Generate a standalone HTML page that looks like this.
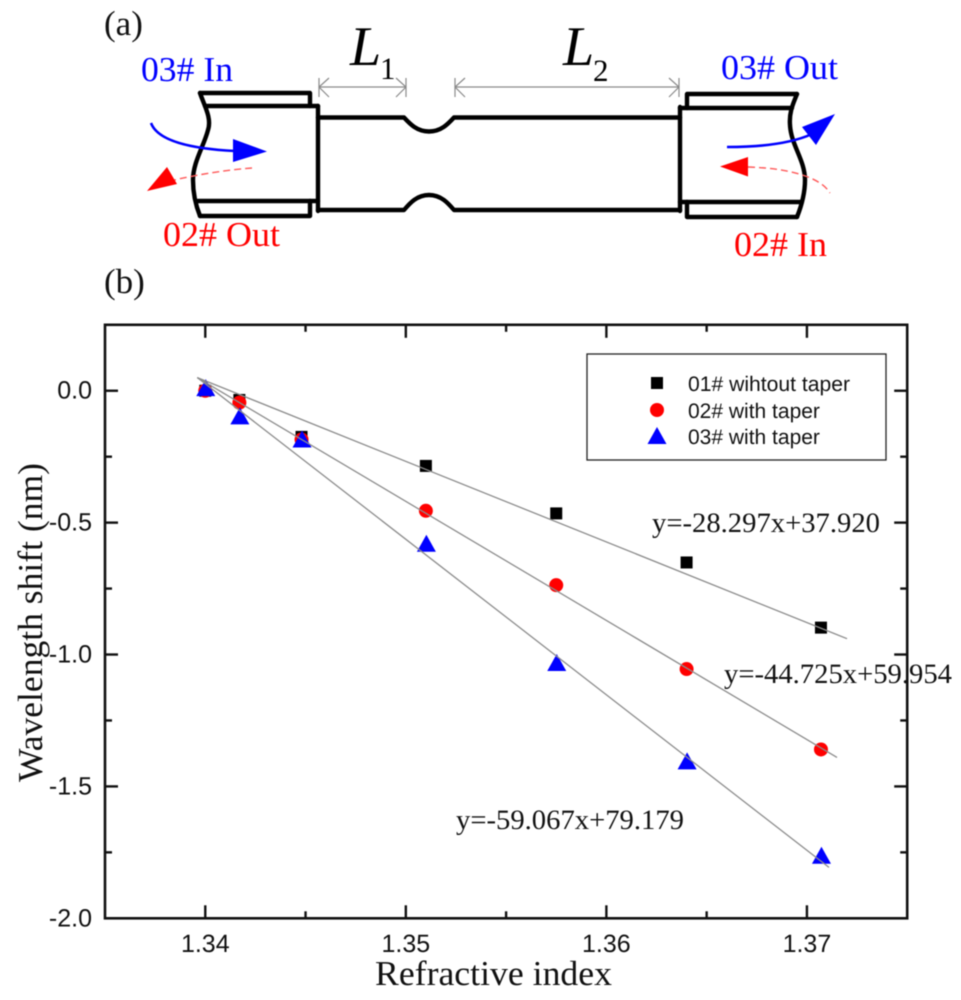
<!DOCTYPE html>
<html>
<head>
<meta charset="utf-8">
<title>Taper fiber diagram and wavelength shift chart</title>
<style>
html,body{margin:0;padding:0;background:#fff;width:961px;height:1000px;overflow:hidden}
svg{display:block;filter:blur(0.45px);text-rendering:geometricPrecision}
.serif{font-family:"Liberation Serif",serif}
.sans{font-family:"Liberation Sans",sans-serif}
.fiber{fill:none;stroke:#000;stroke-width:4.4;stroke-linejoin:round;stroke-linecap:round}
.dim{fill:none;stroke:#8a8a8a;stroke-width:1.2}
</style>
</head>
<body>
<svg id="figure" width="961" height="1000" viewBox="0 0 961 1000" xmlns="http://www.w3.org/2000/svg">
<rect width="961" height="1000" fill="#fff"/>

<g id="panel-a">
  <text class="serif" x="104" y="35" font-size="35" fill="#111">(a)</text>

  <g class="fiber">
    <path d="M200 93H310V106"/>
    <path d="M205 106H318"/>
    <path d="M198 201H318"/>
    <path d="M200 216H310V201"/>
    <path d="M200 93C204 105 212 118 208 130C204 146 193 162 193 180C193 195 196 206 200 216"/>
  </g>
  <g class="fiber">
    <path d="M797 94H687V108"/>
    <path d="M680 108H792"/>
    <path d="M680 202H800"/>
    <path d="M797 217H687V202"/>
    <path d="M797 94C793 104 789 112 790 125C791 145 805 160 805 180C805 195 801 207 797 217"/>
  </g>
  <g class="fiber">
    <path d="M318 106V211"/>
    <path d="M680 107V211"/>
    <path d="M318 117.5H404C410 124 417 131.500 429 131.500C441 131.500 448 124 454 117.5H680"/>
    <path d="M318 210H404C410 203 417 195 429 195C441 195 448 203 454 210H680"/>
  </g>

  <g class="dim">
    <path d="M319 78V97M406 78V97M319 87H406M329 78L319 87L329 97M396 78L406 87L396 97"/>
  </g>
  <g class="dim">
    <path d="M455 78V97M679 78V97M455 87H679M465 78L455 87L465 97M669 78L679 87L669 97"/>
  </g>
  <text class="serif" x="350" y="65" font-size="56" font-style="italic" fill="#000">L</text>
  <text class="serif" x="380" y="79" font-size="31" fill="#000">1</text>
  <text class="serif" x="563" y="65" font-size="56" font-style="italic" fill="#000">L</text>
  <text class="serif" x="593" y="81" font-size="31" fill="#000">2</text>

  <text class="serif" x="141" y="81" font-size="35" textLength="92" lengthAdjust="spacingAndGlyphs" fill="#0000ff">03# In</text>
  <text class="serif" x="163" y="246" font-size="35" textLength="117" lengthAdjust="spacingAndGlyphs" fill="#ff0000">02# Out</text>
  <text class="serif" x="721" y="79" font-size="35" textLength="117" lengthAdjust="spacingAndGlyphs" fill="#0000ff">03# Out</text>
  <text class="serif" x="734" y="256" font-size="35" textLength="93" lengthAdjust="spacingAndGlyphs" fill="#ff0000">02# In</text>

  <g>
    <path d="M151 123C158 142 195 149 235 151" fill="none" stroke="#0000ff" stroke-width="2.6"/>
    <path d="M233 139L267 151.5L233 162Z" fill="#0000ff"/>
  </g>
  <g>
    <path d="M252 168C225 170 195 175 170 181" fill="none" stroke="#ff5a5a" stroke-width="1.4" stroke-dasharray="7 4"/>
    <path d="M147 191L167 167L177 184Z" fill="#ff0000"/>
  </g>
  <g>
    <path d="M727 147C760 147 790 144 812 134" fill="none" stroke="#0000ff" stroke-width="2.6"/>
    <path d="M835 114L802 127L816 145Z" fill="#0000ff"/>
  </g>
  <g>
    <path d="M748 167C785 168 820 176 830 193" fill="none" stroke="#ff5a5a" stroke-width="1.4" stroke-dasharray="7 4"/>
    <path d="M720 166.500L748 157L748 176.500Z" fill="#ff0000"/>
  </g>

  <text class="serif" x="104" y="293" font-size="35" fill="#111">(b)</text>
</g>

<g id="chart"></g>
</svg>

<script>
var xMajorTicks = [1.34, 1.35, 1.36, 1.37];
var xMinorTicks = [1.345, 1.355, 1.365];
var yMajorTicks = [0, -0.5, -1.0, -1.5, -2.0];
var yMinorTicks = [-0.25, -0.75, -1.25, -1.75];
var xTickLabels = ["1.34", "1.35", "1.36", "1.37"];
var yTickLabels = ["0.0", "-0.5", "-1.0", "-1.5", "-2.0"];
var xDomain = [1.335, 1.375];
var yDomain = [-2.0, 0.25];

var refractiveIndex = [1.34, 1.3417, 1.3448, 1.351, 1.3575, 1.364, 1.3707];
var series01 = [0, -0.035, -0.175, -0.285, -0.465, -0.651, -0.898];
var series02 = [0, -0.045, -0.185, -0.455, -0.737, -1.055, -1.36];
var series03 = [0.01, -0.097, -0.185, -0.58, -1.032, -1.405, -1.763];

var fit01X = [1.3396, 1.372];
var fit01Y = [0.05, -0.94];
var fit02X = [1.3396, 1.3715];
var fit02Y = [0.05, -1.39];
var fit03X = [1.3396, 1.3711];
var fit03Y = [0.05, -1.807];

var NS = 'http://www.w3.org/2000/svg';
var chart = document.getElementById('chart');
var plotLeft = 105, plotRight = 907.2, plotTop = 324.8, plotBottom = 918.3;

function xScale(v) {
  return plotLeft + (v - xDomain[0]) / (xDomain[1] - xDomain[0]) * (plotRight - plotLeft);
}
function yScale(v) {
  return plotBottom - (v - yDomain[0]) / (yDomain[1] - yDomain[0]) * (plotBottom - plotTop);
}
function make(tag, attrs, text) {
  var el = document.createElementNS(NS, tag);
  for (var k in attrs) { el.setAttribute(k, attrs[k]); }
  if (text !== undefined) { el.textContent = text; }
  chart.appendChild(el);
  return el;
}
function tick(x1, y1, x2, y2, name) {
  var t = make('line', {x1: x1, y1: y1, x2: x2, y2: y2, stroke: '#111', 'stroke-width': 2.4});
  
  
}

xMajorTicks.forEach(function (v, i) {
  var x = xScale(v);
  tick(x, plotBottom, x, plotBottom - 13, 'x-major-tick-bottom');
  tick(x, plotTop, x, plotTop + 13, 'x-major-tick-top');
  var lab = make('text', {x: x, y: 952, 'font-size': 25, 'text-anchor': 'middle', 'class': 'sans', fill: '#111'}, xTickLabels[i]);
  
  
});
xMinorTicks.forEach(function (v) {
  var x = xScale(v);
  tick(x, plotBottom, x, plotBottom - 7, 'x-minor-tick-bottom');
  tick(x, plotTop, x, plotTop + 7, 'x-minor-tick-top');
});
yMajorTicks.forEach(function (v, i) {
  var y = yScale(v);
  tick(plotLeft, y, plotLeft + 13, y, 'y-major-tick-left');
  tick(plotRight, y, plotRight - 13, y, 'y-major-tick-right');
  var lab = make('text', {x: 92, y: y + 8, 'font-size': 25, 'text-anchor': 'end', 'class': 'sans', fill: '#111'}, yTickLabels[i]);
  
  
});
yMinorTicks.forEach(function (v) {
  var y = yScale(v);
  tick(plotLeft, y, plotLeft + 7, y, 'y-minor-tick-left');
  tick(plotRight, y, plotRight - 7, y, 'y-minor-tick-right');
});

var frame = make('rect', {x: plotLeft, y: plotTop, width: plotRight - plotLeft, height: plotBottom - plotTop, fill: 'none', stroke: '#111', 'stroke-width': 2.6});



function fitLine(xs, ys, name) {
  var l = make('line', {x1: xScale(xs[0]), y1: yScale(ys[0]), x2: xScale(xs[1]), y2: yScale(ys[1]), stroke: '#8c8c8c', 'stroke-width': 1.3});
  
  
}
function square(cx, cy) {
  var m = make('rect', {x: cx - 6, y: cy - 6, width: 12, height: 12, fill: '#000'});
  
  
}
function circle(cx, cy) {
  var m = make('circle', {cx: cx, cy: cy, r: 7, fill: '#ff0000'});
  
  
}
function triangle(cx, cy) {
  var m = make('path', {d: 'M' + cx + ' ' + (cy - 9) + 'L' + (cx + 9.5) + ' ' + (cy + 8) + 'L' + (cx - 9.5) + ' ' + (cy + 8) + 'Z', fill: '#0000ff'});
  
  
}

refractiveIndex.forEach(function (v, i) { square(xScale(v), yScale(series01[i])); });
refractiveIndex.forEach(function (v, i) { circle(xScale(v), yScale(series02[i])); });
refractiveIndex.forEach(function (v, i) { triangle(xScale(v) + 0.5, yScale(series03[i])); });

fitLine(fit01X, fit01Y, 'fit-line-01');
fitLine(fit02X, fit02Y, 'fit-line-02');
fitLine(fit03X, fit03Y, 'fit-line-03');

var xTitle = make('text', {x: 375, y: 985, 'font-size': 35, textLength: 237, lengthAdjust: 'spacingAndGlyphs', 'class': 'serif', fill: '#111'}, 'Refractive index');



var yTitle = make('text', {transform: 'translate(42 782) rotate(-90)', 'font-size': 35, textLength: 319, lengthAdjust: 'spacingAndGlyphs', 'class': 'serif', fill: '#111'}, 'Wavelength shift (nm)');



var eq1 = make('text', {x: 652, y: 532, 'font-size': 28, textLength: 228, lengthAdjust: 'spacingAndGlyphs', 'class': 'serif', fill: '#111'}, 'y=-28.297x+37.920');


var eq2 = make('text', {x: 724, y: 683, 'font-size': 28, textLength: 228, lengthAdjust: 'spacingAndGlyphs', 'class': 'serif', fill: '#111'}, 'y=-44.725x+59.954');


var eq3 = make('text', {x: 456, y: 829, 'font-size': 28, textLength: 228, lengthAdjust: 'spacingAndGlyphs', 'class': 'serif', fill: '#111'}, 'y=-59.067x+79.179');



var legendBox = make('rect', {x: 587, y: 354, width: 299, height: 106, fill: '#fff', stroke: '#222', 'stroke-width': 1.3});


square(657, 383);
circle(657, 410);
triangle(657, 436);
var leg1 = make('text', {x: 688, y: 391, 'font-size': 21, textLength: 162, lengthAdjust: 'spacingAndGlyphs', 'class': 'sans', fill: '#111'}, '01# wihtout taper');


var leg2 = make('text', {x: 688, y: 418, 'font-size': 21, 'class': 'sans', fill: '#111'}, '02# with taper');


var leg3 = make('text', {x: 688, y: 444, 'font-size': 21, 'class': 'sans', fill: '#111'}, '03# with taper');


</script>
</body>
</html>
